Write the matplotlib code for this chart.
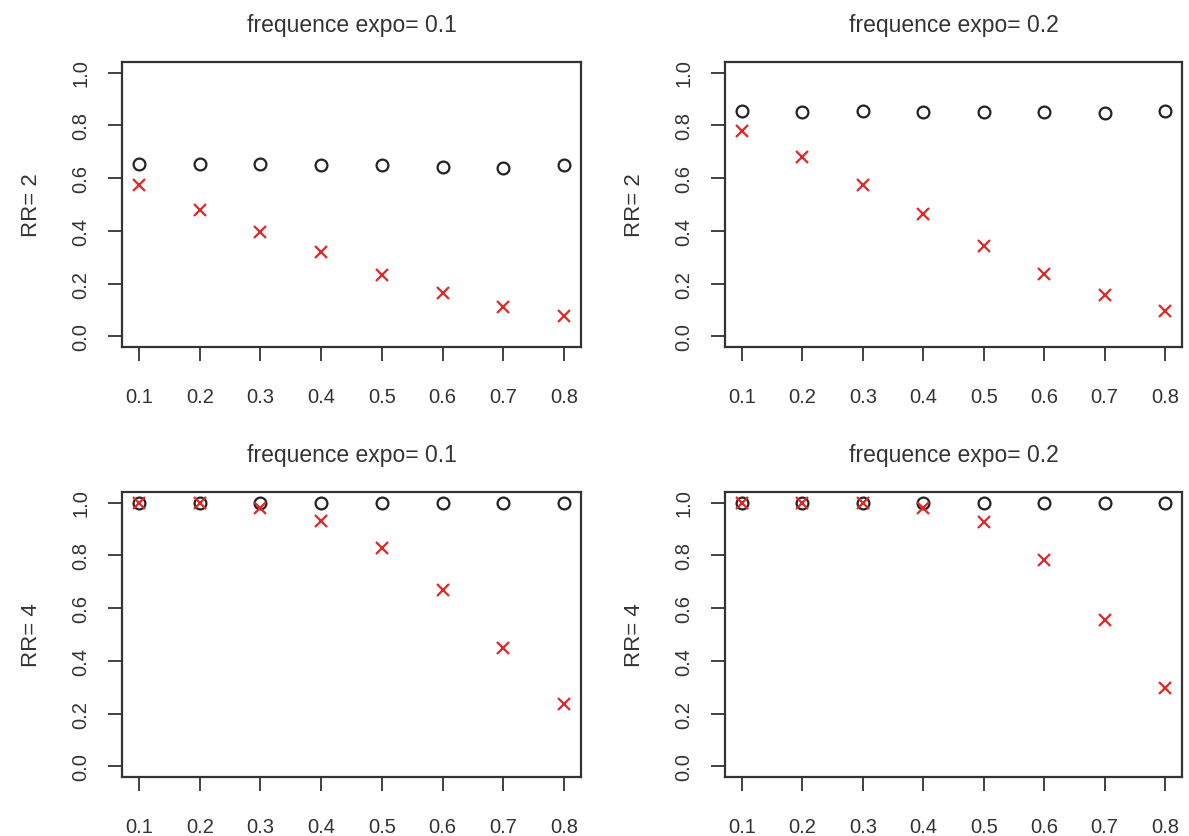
import matplotlib
matplotlib.use("Agg")
import matplotlib.pyplot as plt

plt.rcParams['font.family'] = ['Liberation Sans', 'DejaVu Sans']

expo = [0.1, 0.2, 0.3, 0.4, 0.5, 0.6, 0.7, 0.8]

# top row: RR = 2
rr2_f01_circ = [0.652, 0.653, 0.654, 0.651, 0.651, 0.643, 0.640, 0.649]
rr2_f01_cross = [0.573, 0.478, 0.394, 0.319, 0.234, 0.164, 0.111, 0.078]
rr2_f02_circ = [0.853, 0.849, 0.853, 0.851, 0.849, 0.851, 0.846, 0.853]
rr2_f02_cross = [0.778, 0.679, 0.575, 0.463, 0.341, 0.236, 0.156, 0.098]

# bottom row: RR = 4
rr4_f01_circ = [1.0, 1.0, 1.0, 1.0, 1.0, 1.0, 1.0, 1.0]
rr4_f01_cross = [1.0, 1.0, 0.979, 0.931, 0.828, 0.670, 0.450, 0.236]
rr4_f02_circ = [1.0, 1.0, 1.0, 1.0, 1.0, 1.0, 1.0, 1.0]
rr4_f02_cross = [1.0, 1.0, 0.998, 0.979, 0.928, 0.781, 0.555, 0.297]

panels = [
    ("frequence expo= 0.1", "RR= 2", rr2_f01_circ, rr2_f01_cross),
    ("frequence expo= 0.2", "RR= 2", rr2_f02_circ, rr2_f02_cross),
    ("frequence expo= 0.1", "RR= 4", rr4_f01_circ, rr4_f01_cross),
    ("frequence expo= 0.2", "RR= 4", rr4_f02_circ, rr4_f02_cross),
]

W, H = 1189, 837
# box edges in pixels: (left, right, top, bottom)
boxes = [(122, 581, 63, 348), (725, 1182, 63, 348),
         (122, 581, 493, 778), (725, 1182, 493, 778)]

fig = plt.figure(figsize=(W / 100, H / 100), dpi=100)
txt = '#333333'

for (title, ylab, circ, cross), (l, r, t, b) in zip(panels, boxes):
    ax = fig.add_axes([l / W, 1 - b / H, (r - l) / W, (b - t) / H])
    ax.plot(expo, circ, linestyle='none', marker='o', markersize=8.5,
            markerfacecolor='none', markeredgecolor='#222222', markeredgewidth=1.6)
    ax.plot(expo, cross, linestyle='none', marker='x', markersize=8,
            color='#e02828', markeredgewidth=1.6)
    ax.set_xlim(0.072, 0.828)
    ax.set_ylim(-0.04, 1.04)
    ax.set_xticks(expo)
    ax.set_xticklabels([str(v) for v in expo])
    ax.set_yticks([0.0, 0.2, 0.4, 0.6, 0.8, 1.0])
    ax.set_yticklabels(["0.0", "0.2", "0.4", "0.6", "0.8", "1.0"],
                       rotation=90, va='center')
    ax.tick_params(axis='both', direction='out', length=10, width=1.3,
                   color='#333333', labelcolor=txt, labelsize=14.5)
    ax.tick_params(axis='x', pad=19)
    ax.tick_params(axis='y', pad=13)
    for s in ax.spines.values():
        s.set_linewidth(1.6)
        s.set_color('#333333')
    ax.set_title(title, fontsize=16.5, color=txt, pad=22)
    ax.set_ylabel(ylab, fontsize=16, color=txt, labelpad=21)

fig.savefig("out.png", dpi=100)
